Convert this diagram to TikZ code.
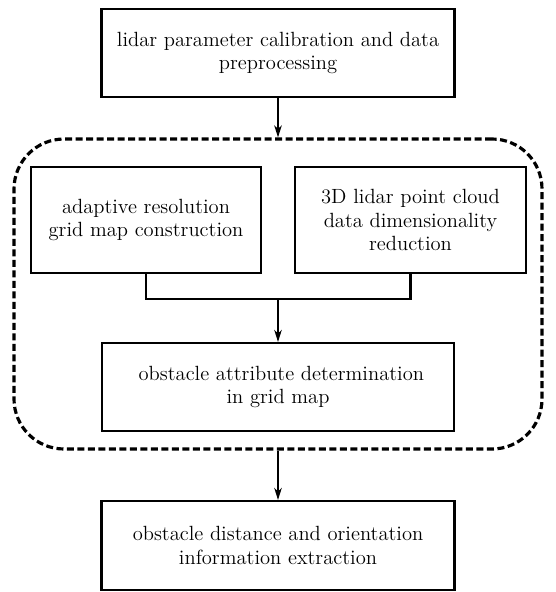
\documentclass[tikz,border=0pt]{standalone}
\usepackage{tikz}
\usetikzlibrary{positioning, arrows.meta}

\begin{document}
\begin{tikzpicture}[
    box/.style={draw, line width=1.2pt, align=center, inner sep=2pt,
      font=\fontsize{11.7}{13.6}\selectfont},
    frame/.style={draw, line width=1.8pt, dash pattern=on 1.4mm off 0.7mm,
      rounded corners=1cm, minimum width=10.56cm, minimum height=6.2cm},
    arr/.style={line width=1.1pt, -{Stealth[length=2.4mm, width=1.5mm, inset=0.7mm]}}
  ]
    \useasboundingbox (0,0) rectangle (11.12,-11.84);
    % 1 px = 0,2 mm
    \node[frame] (frame) at (5.56,-5.88) {};
    \node[box, minimum width=7.06cm, minimum height=1.76cm] (calib) at (5.56,-1.06)
      {lidar parameter calibration and data\\preprocessing};
    \node[box, minimum width=4.6cm, minimum height=2.12cm] (grid) at (2.92,-4.40)
      {adaptive resolution\\grid map construction};
    \node[box, minimum width=4.62cm, minimum height=2.12cm] (reduce) at (8.21,-4.40)
      {3D lidar point cloud\\data dimensionality\\reduction};
    \node[box, minimum width=7.04cm, minimum height=1.76cm] (attr) at (5.56,-7.74)
      {\ obstacle attribute determination\\in grid map};
    \node[box, minimum width=7.06cm, minimum height=1.78cm] (extract) at (5.56,-10.91)
      {obstacle distance and orientation\\information extraction};
    \coordinate (join) at (5.56,-5.98);
    \draw[arr] (calib) -- (frame.north);
    \draw[line width=1.2pt] (grid.south) |- (join) -| (reduce.south);
    \draw[arr] (join) -- (attr.north);
    \draw[arr] (frame.south) -- (extract);
  \end{tikzpicture}
\end{document}
